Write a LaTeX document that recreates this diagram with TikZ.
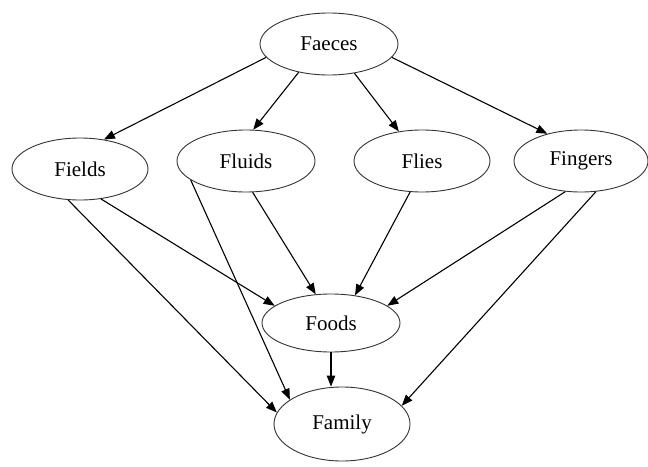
\documentclass[tikz,border=0pt]{standalone}
\usepackage{fontspec}
\setmainfont{Liberation Serif}
\usetikzlibrary{shapes.geometric,arrows.meta}
\begin{document}
\begin{tikzpicture}[x=1pt,y=-1pt,
  ell/.style={ellipse,draw=black!80,line width=0.9pt,inner sep=0pt,font=\fontsize{21}{24}\selectfont},
  edge/.style={line width=1.1pt,-{Triangle[length=11pt,width=8.5pt]}}]
\useasboundingbox (0,0) rectangle (648,466);
\node[ell,minimum width=138pt,minimum height=62pt] (faeces) at (329,44) {Faeces};
\node[ell,minimum width=136pt,minimum height=62pt] (fields) at (80,169) {Fields};
\node[ell,minimum width=138pt,minimum height=62pt] (fluids) at (246,161) {Fluids};
\node[ell,minimum width=136pt,minimum height=62pt] (flies) at (422,161) {Flies};
\node[ell,minimum width=134pt,minimum height=62pt] (fingers) at (581,161) {Fingers};
\node[ell,minimum width=138pt,minimum height=58pt] (foods) at (331,323) {Foods};
\node[ell,minimum width=136pt,minimum height=74pt] (family) at (342,424) {Family};
\draw[edge] (faeces.192.6) -- (fields.51);
\draw[edge] (faeces.223) -- (fluids.77);
\draw[edge] (faeces.311) -- (flies.128);
\draw[edge] (faeces.348.5) -- (fingers.141.5);
\draw[edge] (fields.305) -- (foods.163);
\draw[edge] (fields.249) -- (family.170);
\draw[edge] (fluids.282) -- (foods.118);
\draw[edge] (fluids.199.4) -- (family.155.5);
\draw[edge] (flies.249.4) -- (foods.49);
\draw[edge] (fingers.243.4) -- (foods.17);
\draw[edge] (fingers.296.6) -- (family.17.6);
\draw[edge] (foods.south) -- (foods.south |- family.north);
\end{tikzpicture}
\end{document}
